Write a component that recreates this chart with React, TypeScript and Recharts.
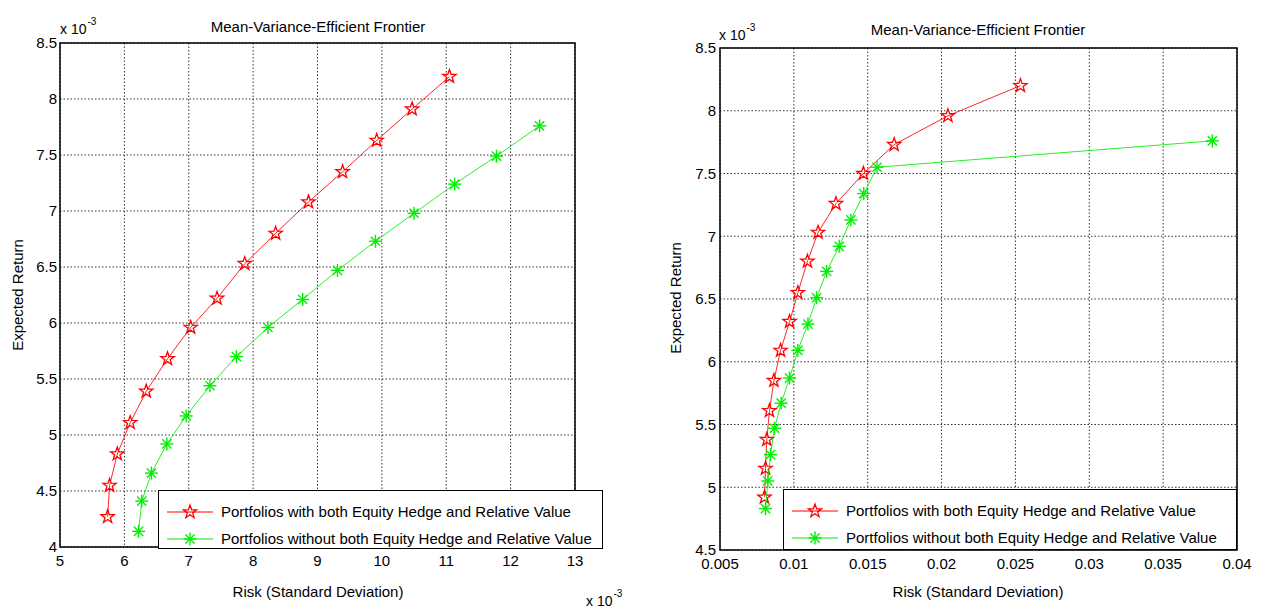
import React from 'react';
import { ScatterChart, Scatter, XAxis, YAxis, CartesianGrid, ReferenceArea, Legend } from 'recharts';

// left panel: both axes in units of 1e-3
const leftRedRisk = [5.74, 5.77, 5.89, 6.09, 6.34, 6.67, 7.03, 7.44, 7.87, 8.35, 8.86, 9.39, 9.92, 10.47, 11.05];
const leftRedReturn = [4.27, 4.55, 4.83, 5.11, 5.39, 5.68, 5.96, 6.22, 6.53, 6.8, 7.08, 7.35, 7.63, 7.91, 8.2];
const leftGreenRisk = [6.22, 6.27, 6.42, 6.66, 6.96, 7.33, 7.74, 8.23, 8.77, 9.31, 9.9, 10.5, 11.13, 11.78, 12.45];
const leftGreenReturn = [4.14, 4.41, 4.66, 4.92, 5.17, 5.44, 5.7, 5.96, 6.21, 6.47, 6.73, 6.98, 7.24, 7.49, 7.76];

// right panel: risk as is, return in units of 1e-3
const rightRedRisk = [0.00801, 0.00808, 0.00817, 0.00835, 0.00865, 0.0091, 0.00971, 0.01027, 0.01092, 0.01164, 0.01285, 0.01471, 0.01679, 0.02043, 0.02534];
const rightRedReturn = [4.92, 5.15, 5.38, 5.61, 5.85, 6.09, 6.32, 6.55, 6.8, 7.03, 7.26, 7.5, 7.73, 7.96, 8.2];
const rightGreenRisk = [0.00808, 0.00824, 0.00842, 0.00869, 0.00914, 0.00971, 0.01027, 0.01095, 0.01154, 0.01222, 0.01307, 0.01386, 0.01473, 0.01563, 0.03833];
const rightGreenReturn = [4.83, 5.05, 5.26, 5.47, 5.67, 5.87, 6.09, 6.3, 6.51, 6.72, 6.92, 7.13, 7.34, 7.55, 7.76];

const leftXTicks = [5, 6, 7, 8, 9, 10, 11, 12, 13];
const leftYTicks = [4, 4.5, 5, 5.5, 6, 6.5, 7, 7.5, 8, 8.5];
const rightXTicks = [0.005, 0.01, 0.015, 0.02, 0.025, 0.03, 0.035, 0.04];
const rightYTicks = [4.5, 5, 5.5, 6, 6.5, 7, 7.5, 8, 8.5];

const seriesNames = [
  'Portfolios with both Equity Hedge and Relative Value',
  'Portfolios without both Equity Hedge and Relative Value',
];

const FONT = "'Liberation Sans', Arial, Helvetica, sans-serif";
const RED = '#ff0000';
const GREEN = '#00ee00';

const toPoints = (xs: number[], ys: number[]) => xs.map((x, i) => ({ x, y: ys[i] }));

function Star({ cx, cy }: any) {
  if (cx == null || cy == null) return null;
  const pts: string[] = [];
  for (let i = 0; i < 10; i++) {
    const a = -Math.PI / 2 + (i * Math.PI) / 5;
    const r = i % 2 === 0 ? 7 : 2.8;
    pts.push(`${cx + r * Math.cos(a)},${cy + r * Math.sin(a)}`);
  }
  return <polygon points={pts.join(' ')} fill="none" stroke={RED} strokeWidth={1.3} />;
}

function Asterisk({ cx, cy }: any) {
  if (cx == null || cy == null) return null;
  const d = 4.6;
  return (
    <g stroke={GREEN} strokeWidth={1.4}>
      <line x1={cx - 6.5} y1={cy} x2={cx + 6.5} y2={cy} />
      <line x1={cx} y1={cy - 6.5} x2={cx} y2={cy + 6.5} />
      <line x1={cx - d} y1={cy - d} x2={cx + d} y2={cy + d} />
      <line x1={cx - d} y1={cy + d} x2={cx + d} y2={cy - d} />
    </g>
  );
}

const markers = [Star, Asterisk];
const colors = [RED, GREEN];

function makeLegend(w: number, h: number) {
  return ({ payload }: any) => (
    <div
      style={{
        width: w,
        height: h,
        boxSizing: 'border-box',
        border: '1.5px solid #000',
        background: '#fff',
        fontFamily: FONT,
        fontSize: 15,
        color: '#000',
        paddingTop: 7,
      }}
    >
      {(payload || []).map((p: any, i: number) => {
        const M = markers[i];
        return (
          <div key={i} style={{ display: 'flex', alignItems: 'center', height: 27, whiteSpace: 'nowrap' }}>
            <svg width={60} height={20} style={{ flex: 'none' }}>
              <line x1={8} y1={10} x2={54} y2={10} stroke={colors[i]} strokeWidth={1} />
              <M cx={31} cy={10} />
            </svg>
            <span style={{ marginLeft: 2 }}>{p.value}</span>
          </div>
        );
      })}
    </div>
  );
}

const tickStyle = { fill: '#000', fontSize: 15, fontFamily: FONT };
const text = (extra: React.CSSProperties): React.CSSProperties => ({
  position: 'absolute',
  fontFamily: FONT,
  fontSize: 15,
  lineHeight: 1,
  color: '#000',
  whiteSpace: 'nowrap',
  ...extra,
});

function Exponent({ left, top }: { left: number; top: number }) {
  return (
    <div style={text({ left, top, fontSize: 14 })}>
      x 10<span style={{ fontSize: 10, position: 'relative', top: -9, marginLeft: 1 }}>-3</span>
    </div>
  );
}

function Panel(props: {
  left: number;
  width: number;
  margin: { top: number; right: number; bottom: number; left: number };
  xDomain: [number, number];
  yDomain: [number, number];
  xTicks: number[];
  yTicks: number[];
  red: { x: number; y: number }[];
  green: { x: number; y: number }[];
  legendBox: { left: number; top: number; width: number; height: number };
  yTickMargin: number;
}) {
  const { left, width, margin, xDomain, yDomain, xTicks, yTicks, red, green, legendBox, yTickMargin } = props;
  return (
    <div style={{ position: 'absolute', left, top: 0, width, height: 610 }}>
      <ScatterChart width={width} height={610} margin={margin}>
        <CartesianGrid stroke="#333" strokeDasharray="1.5 2" strokeWidth={1} />
        <XAxis
          type="number"
          dataKey="x"
          domain={xDomain}
          ticks={xTicks}
          allowDataOverflow
          height={1}
          tickLine={false}
          axisLine={false}
          tickSize={0}
          tickMargin={8}
          tick={tickStyle}
          interval={0}
        />
        <YAxis
          type="number"
          dataKey="y"
          domain={yDomain}
          ticks={yTicks}
          allowDataOverflow
          width={1}
          tickLine={false}
          axisLine={false}
          tickSize={0}
          tickMargin={yTickMargin}
          tick={tickStyle}
          interval={0}
        />
        <ReferenceArea
          x1={xDomain[0]}
          x2={xDomain[1]}
          y1={yDomain[0]}
          y2={yDomain[1]}
          fill="none"
          fillOpacity={0}
          stroke="#000"
          strokeWidth={1.5}
          ifOverflow="visible"
        />
        <Scatter
          name={seriesNames[0]}
          data={red}
          fill={RED}
          line={{ stroke: RED, strokeWidth: 1, strokeOpacity: 0.85 }}
          shape={<Star />}
          isAnimationActive={false}
        />
        <Scatter
          name={seriesNames[1]}
          data={green}
          fill={GREEN}
          line={{ stroke: GREEN, strokeWidth: 1, strokeOpacity: 0.85 }}
          shape={<Asterisk />}
          isAnimationActive={false}
        />
        <Legend
          layout="vertical"
          align="center"
          verticalAlign="middle"
          content={makeLegend(legendBox.width, legendBox.height)}
          wrapperStyle={{ left: legendBox.left, top: legendBox.top, width: legendBox.width, height: legendBox.height }}
        />
      </ScatterChart>
    </div>
  );
}

export default function App() {
  return (
    <div style={{ position: 'absolute', left: 0, top: 0, width: 1266, height: 610, background: '#fff', overflow: 'hidden' }}>
      <Panel
        left={0}
        width={640}
        margin={{ top: 43, right: 65, bottom: 62, left: 59 }}
        xDomain={[5, 13]}
        yDomain={[4, 8.5]}
        xTicks={leftXTicks}
        yTicks={leftYTicks}
        red={toPoints(leftRedRisk, leftRedReturn)}
        green={toPoints(leftGreenRisk, leftGreenReturn)}
        legendBox={{ left: 158, top: 490, width: 445, height: 59 }}
        yTickMargin={3}
      />
      <Panel
        left={640}
        width={626}
        margin={{ top: 48, right: 29, bottom: 59, left: 79 }}
        xDomain={[0.005, 0.04]}
        yDomain={[4.5, 8.5]}
        xTicks={rightXTicks}
        yTicks={rightYTicks}
        red={toPoints(rightRedRisk, rightRedReturn)}
        green={toPoints(rightGreenRisk, rightGreenReturn)}
        legendBox={{ left: 143, top: 489, width: 454, height: 61 }}
        yTickMargin={4}
      />

      <div style={text({ left: 318, top: 26, transform: 'translate(-50%, -50%)' })}>Mean-Variance-Efficient Frontier</div>
      <div style={text({ left: 978, top: 29, transform: 'translate(-50%, -50%)' })}>Mean-Variance-Efficient Frontier</div>

      <div style={text({ left: 318, top: 591, transform: 'translate(-50%, -50%)' })}>Risk (Standard Deviation)</div>
      <div style={text({ left: 978, top: 591, transform: 'translate(-50%, -50%)' })}>Risk (Standard Deviation)</div>

      <div style={text({ left: 17, top: 295, transform: 'translate(-50%, -50%)' + ' rotate(-90deg)' })}>Expected Return</div>
      <div style={text({ left: 675, top: 298, transform: 'translate(-50%, -50%) rotate(-90deg)' })}>Expected Return</div>

      <Exponent left={60} top={22} />
      <Exponent left={719} top={28} />
      <Exponent left={586} top={594} />
    </div>
  );
}
